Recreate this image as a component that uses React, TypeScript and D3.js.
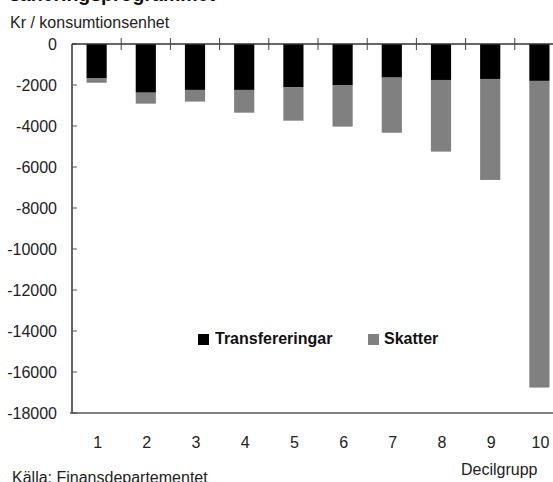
import { useMemo } from "react";
import * as d3 from "d3";

const deciles = ["1", "2", "3", "4", "5", "6", "7", "8", "9", "10"];
// kr per konsumtionsenhet (negative = minskning)
const transfereringar = [-1660, -2375, -2240, -2240, -2100, -2000, -1640, -1755, -1705, -1800];
const skatter = [-230, -535, -570, -1110, -1640, -2030, -2690, -3495, -4925, -14960];
const yTicks = [0, -2000, -4000, -6000, -8000, -10000, -12000, -14000, -16000, -18000];

const W = 553;
const H = 482;
const FONT = "'Liberation Sans', Arial, sans-serif";
const FS = 16;

export default function App() {
  const x = useMemo(
    () =>
      d3
        .scaleBand<string>()
        .domain(deciles)
        .range([72, 564])
        .paddingInner(0.59)
        .paddingOuter(0.295),
    []
  );
  const y = useMemo(() => d3.scaleLinear().domain([-18000, 0]).range([413, 44]), []);

  const series = useMemo(() => {
    const rows = deciles.map((d, i) => ({
      decil: d,
      transfereringar: transfereringar[i],
      skatter: skatter[i],
    }));
    return d3
      .stack<any>()
      .keys(["transfereringar", "skatter"])
      .offset(d3.stackOffsetDiverging)(rows);
  }, []);

  const colors: Record<string, string> = { transfereringar: "#000", skatter: "#808080" };
  const step = x.step();
  const x0 = x.range()[0];
  const boundaries = d3.range(1, deciles.length + 1).map((i) => x0 + i * step);

  return (
    <svg
      width={W}
      height={H}
      style={{ position: "absolute", left: 0, top: 0, background: "#fff" }}
      fontFamily={FONT}
    >
      <text x={9} y={0.5} fontSize={19.5} fontWeight="bold" fill="#111">
        saneringsprogrammet
      </text>
      <text x={10} y={28} fontSize={FS} fill="#222">
        Kr / konsumtionsenhet
      </text>

      {series.map((s) => (
        <g key={s.key} fill={colors[s.key]}>
          {s.map((d: any) => {
            const top = Math.min(y(d[0]), y(d[1]));
            const bottom = Math.max(y(d[0]), y(d[1]));
            return (
              <rect
                key={d.data.decil}
                x={x(d.data.decil)}
                width={x.bandwidth()}
                y={top}
                height={bottom - top}
              />
            );
          })}
        </g>
      ))}

      {/* y axis */}
      <line x1={72} x2={72} y1={y(0)} y2={y(-18000)} stroke="#333" strokeWidth={1.5} />
      {yTicks.map((t) => (
        <g key={t}>
          <line x1={72} x2={77} y1={y(t)} y2={y(t)} stroke="#555" />
          <text x={57} y={y(t)} dy="0.36em" textAnchor="end" fontSize={FS} fill="#222">
            {t}
          </text>
        </g>
      ))}

      {/* zero line and category ticks */}
      <line x1={72} x2={W} y1={y(0)} y2={y(0)} stroke="#333" strokeWidth={1.5} />
      {boundaries.map((b) => (
        <line key={b} x1={b} x2={b} y1={y(0) - 6} y2={y(0) + 6} stroke="#444" />
      ))}
      <line x1={70} x2={W} y1={413} y2={413} stroke="#555" strokeWidth={1.5} />

      {deciles.map((d) => (
        <text
          key={d}
          x={(x(d) ?? 0) + x.bandwidth() / 2 + 1}
          y={448}
          textAnchor="middle"
          fontSize={FS}
          fill="#222"
        >
          {d}
        </text>
      ))}

      {/* legend */}
      <rect x={198} y={334} width={11} height={11} fill={colors.transfereringar} />
      <text x={215} y={344} fontSize={FS} fontWeight="bold" fill="#111">
        Transfereringar
      </text>
      <rect x={368} y={334} width={11} height={11} fill={colors.skatter} />
      <text x={384} y={344} fontSize={FS} fontWeight="bold" fill="#111">
        Skatter
      </text>

      <text x={461} y={475} fontSize={FS} fill="#222">
        Decilgrupp
      </text>
      <text x={12} y={483} fontSize={FS} fill="#222">
        Källa: Finansdepartementet
      </text>
    </svg>
  );
}
